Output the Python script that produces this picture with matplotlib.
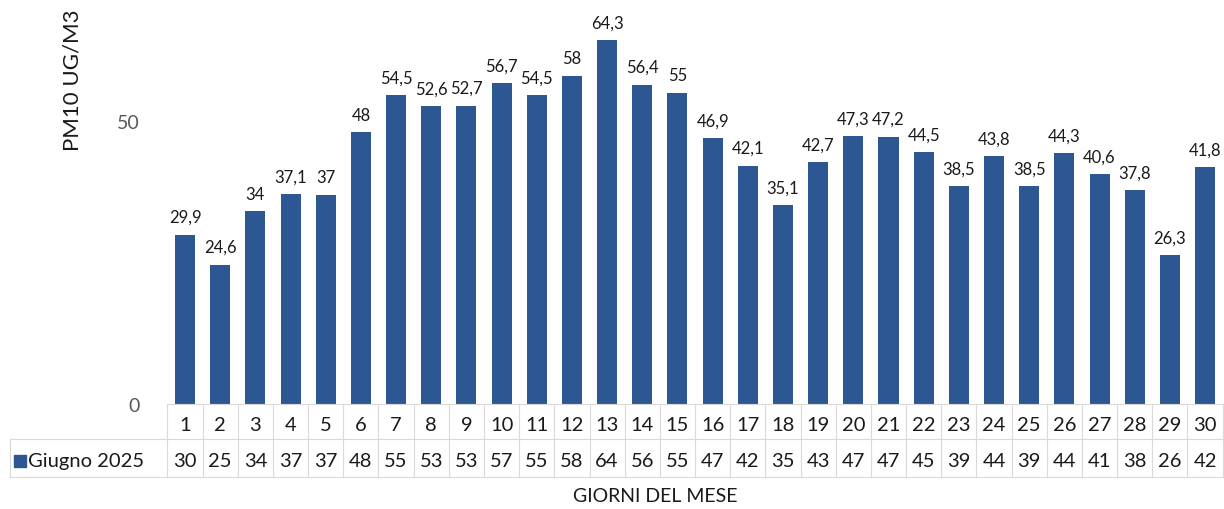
import math

import matplotlib

matplotlib.use("Agg")
import matplotlib.pyplot as plt

# ==================== data ====================
days = list(range(1, 31))
pm10 = [29.9, 24.6, 34, 37.1, 37, 48, 54.5, 52.6, 52.7, 56.7,
        54.5, 58, 64.3, 56.4, 55, 46.9, 42.1, 35.1, 42.7, 47.3,
        47.2, 44.5, 38.5, 43.8, 38.5, 44.3, 40.6, 37.8, 26.3, 41.8]
series_name = "Giugno 2025"
y_label = "PM10 UG/M3"
x_label = "GIORNI DEL MESE"
y_ticks = [0, 50]

# ==================== style ====================
BAR_COLOR = "#2D5793"
GRID_COLOR = "#D9D9D9"
TEXT_COLOR = "#1A1A1A"
TICK_COLOR = "#595959"
plt.rcParams["font.family"] = ["Lato", "DejaVu Sans"]


def round_half_up(v):
    # Excel rounds .5 away from zero, python round() does not
    return int(math.floor(v + 0.5))


fig = plt.figure(figsize=(12.24, 5.10), dpi=100)
ax = fig.add_axes([0.1368, 0.206, 0.8621, 0.788])

x = list(range(len(days)))
bars = ax.bar(x, pm10, width=0.57, color=BAR_COLOR)
ax.bar_label(bars, labels=[f"{v:g}".replace(".", ",") for v in pm10],
             padding=7, fontsize=12, color=TEXT_COLOR)

ax.set_xlim(-0.5, len(days) - 0.5)
ax.set_ylim(0, 71)
ax.set_yticks(y_ticks)
ax.set_yticklabels([str(t) for t in y_ticks], fontsize=14, color=TICK_COLOR)
ax.tick_params(axis="y", length=0, pad=20)
ax.set_xticks([])
for side in ["top", "right", "left"]:
    ax.spines[side].set_visible(False)
ax.spines["bottom"].set_color(GRID_COLOR)

# ---- data table under the axis ----
tx = ax.get_xaxis_transform()
row1_y, row2_y = -0.052, -0.141
line_mid, line_bot = -0.087, -0.182
for i, (d, v) in enumerate(zip(days, pm10)):
    ax.text(i, row1_y, str(d), transform=tx, ha="center", va="center",
            fontsize=14.5, color=TEXT_COLOR, clip_on=False)
    ax.text(i, row2_y, str(round_half_up(v)), transform=tx, ha="center",
            va="center", fontsize=14.5, color=TEXT_COLOR, clip_on=False)
for i in range(len(days) + 1):
    xb = i - 0.5
    ax.plot([xb, xb], [0, line_bot], transform=tx, color=GRID_COLOR,
            lw=0.8, clip_on=False)

ta = ax.transAxes
left_edge = -0.149
ax.plot([left_edge, 1], [line_mid, line_mid], transform=ta, color=GRID_COLOR,
        lw=0.8, clip_on=False)
ax.plot([left_edge, 1], [line_bot, line_bot], transform=ta, color=GRID_COLOR,
        lw=0.8, clip_on=False)
ax.plot([left_edge, left_edge], [line_mid, line_bot], transform=ta,
        color=GRID_COLOR, lw=0.8, clip_on=False)

# legend key in the table
ax.plot([-0.140], [row2_y], transform=ta, marker="s", markersize=8,
        color=BAR_COLOR, linestyle="none", clip_on=False)
ax.text(-0.132, row2_y, series_name, transform=ta, ha="left", va="center",
        fontsize=14.5, color=TEXT_COLOR, clip_on=False)

fig.text(0.059, 0.843, y_label, rotation=90, ha="center", va="center",
         fontsize=16, color=TEXT_COLOR)
fig.text(0.535, 0.027, x_label, ha="center", va="center",
         fontsize=14, color=TEXT_COLOR)

fig.savefig("out.png", dpi=100)
